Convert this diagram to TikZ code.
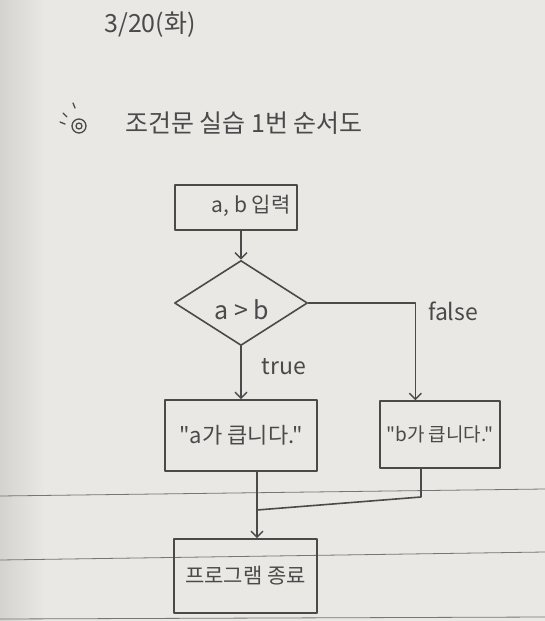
\documentclass[tikz,border=0pt]{standalone}
\usepackage{fontspec}
\setmainfont{Noto Sans CJK KR}[Ligatures=TeXOff]
\usetikzlibrary{shapes.geometric,arrows.meta,calc}
\definecolor{paper}{HTML}{E9E8E4}
\definecolor{paperdark}{HTML}{D4D3CF}
\definecolor{pencil}{HTML}{4A4A4A}
\definecolor{rulecol}{HTML}{767676}
\newcommand\myfs[1]{\fontsize{#1}{#1}\selectfont}
\begin{document}
\begin{tikzpicture}[x=1pt,y=-1pt,
  pen/.style={draw=pencil,line width=1.6pt,line join=round,line cap=round},
  procbox/.style={pen,rectangle,inner sep=0pt,text=pencil},
  decision/.style={pen,diamond,inner sep=0pt,text=pencil,aspect=1.6},
  lbl/.style={text=pencil,inner sep=0pt},
  flow/.style={pen,-{Straight Barb[length=6pt,width=12pt,line width=1.4pt]}},
  ruled/.style={draw=rulecol,line width=0.8pt}]
\fill[paper] (0,0) rectangle (545,621);
\shade[left color=paperdark,right color=paper] (0,0) rectangle (45,621);
\useasboundingbox (0,0) rectangle (545,621);
% notebook rules
\draw[ruled] (0,496) -- (545,489);
\draw[ruled] (0,560) -- (545,552);
\draw[ruled] (0,619) -- (545,617);
% heading
\node[lbl,font=\myfs{25}] (date) at (150,25) {3/20(화)};
\draw[pen,line width=1.3pt] (79,126) circle (7) (79,126) circle (3);
\draw[pen,line width=1.3pt] (73,103) -- (75,108) (63,113) -- (67,117) (60,122) -- (65,124);
\node[lbl,font=\myfs{25}] (title) at (244,123) {조건문 실습 1번 순서도};
% flowchart nodes
\node[procbox,minimum width=122,minimum height=45] (in) at (236,207.5) {};
\node[lbl,font=\myfs{21}] (intext) at (251,206) {a, b 입력};
\node[decision,minimum width=133,minimum height=85] (dia) at (241,303) {};
\node[lbl,font=\myfs{25}] (diatext) at (242,310) {a > b};
\node[procbox,minimum width=152,minimum height=71,font=\myfs{22}] (A) at (241,435.5) {"a가 큽니다."};
\node[procbox,minimum width=120,minimum height=67,font=\myfs{19}] (B) at (440,434.5) {"b가 큽니다."};
\node[procbox,minimum width=143,minimum height=74,font=\myfs{21}] (E) at (245.5,576) {프로그램 종료};
\node[lbl,font=\myfs{23}] (t) at (284,367) {true};
\node[lbl,font=\myfs{23}] (f) at (453,311) {false};
% connectors
\draw[flow] (dia.north |- in.south) -- (dia.north);
\draw[flow] (dia.south) -- (dia.south |- A.north);
\path (dia.east) ++(107,0) coordinate (fx);
\draw[flow] (dia.east) -- (fx) -- (fx |- B.north);
\coordinate (j) at (257,510);
\coordinate (rj) at (421,497);
\draw[flow] (A.south -| j) -- (E.north -| j);
\draw[pen] (B.south -| rj) -- (rj) -- (j);
\end{tikzpicture}
\end{document}
